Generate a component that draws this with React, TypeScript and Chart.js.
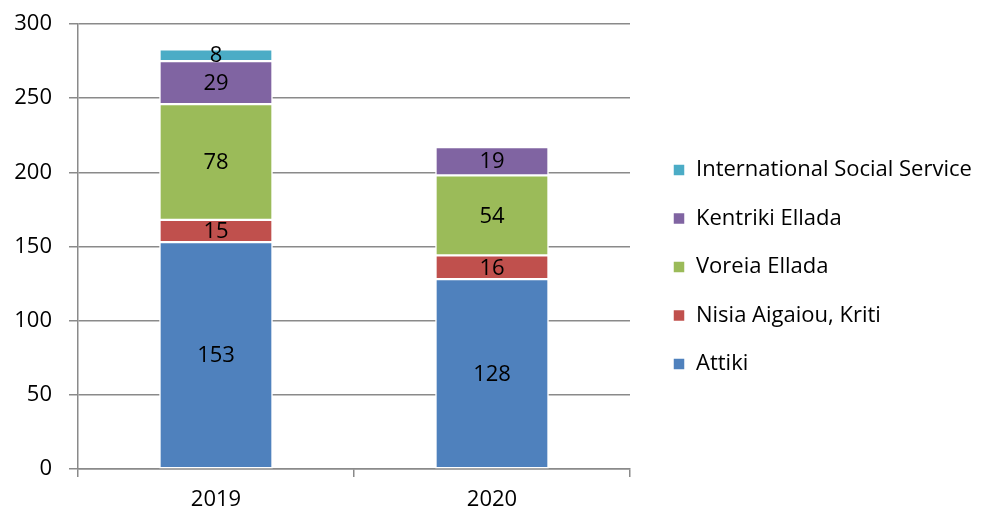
import React, { useEffect, useRef } from "react";
import { Chart, registerables } from "chart.js";

Chart.register(...registerables);

const categories = ["2019", "2020"];
const seriesNames = [
  "Attiki",
  "Nisia Aigaiou, Kriti",
  "Voreia Ellada",
  "Kentriki Ellada",
  "International Social Service",
];
const attiki = [153, 128];
const nisia = [15, 16];
const voreia = [78, 54];
const kentriki = [29, 19];
const iss = [8, null];
const seriesColors = ["#4F81BD", "#C0504D", "#9BBB59", "#8064A2", "#4BACC6"];
const yTicks = [0, 50, 100, 150, 200, 250, 300];

const FONT = "'Open Sans', 'Noto Sans', sans-serif";
const FS = 22;

const labelPlugin = {
  id: "segLabels",
  afterDatasetsDraw(chart: any) {
    const ctx = chart.ctx;
    ctx.save();
    ctx.font = `${FS}px ${FONT}`;
    ctx.fillStyle = "#000";
    ctx.textAlign = "center";
    ctx.textBaseline = "middle";
    chart.data.datasets.forEach((ds: any, i: number) => {
      const meta = chart.getDatasetMeta(i);
      meta.data.forEach((bar: any, j: number) => {
        const v = ds.data[j];
        if (v == null) return;
        const p = bar.getProps(["x", "y", "base"], true);
        ctx.fillText(String(v), p.x, (p.y + p.base) / 2 + 1);
      });
    });
    ctx.restore();
  },
};

const legendShift = {
  id: "legendShift",
  afterLayout(chart: any) {
    const lg = chart.legend;
    if (!lg) return;
    const dx = 16.5;
    const dy = -1.5;
    lg.left += dx;
    lg.right += dx;
    lg.top += dy;
    lg.bottom += dy;
  },
};

export default function App() {
  const ref = useRef<HTMLCanvasElement>(null);
  useEffect(() => {
    document.body.style.margin = "0";
    const datasets = [attiki, nisia, voreia, kentriki, iss].map((d, i) => ({
      label: seriesNames[i],
      data: d,
      backgroundColor: seriesColors[i],
      borderColor: "#ffffff",
      borderWidth: 1.5,
      borderSkipped: false as any,
      barThickness: 113,
    }));
    const chart = new Chart(ref.current!, {
      type: "bar",
      data: { labels: categories, datasets },
      options: {
        animation: false,
        responsive: false,
        maintainAspectRatio: false,
        layout: { padding: { top: 24, left: 0, right: 0, bottom: 0 } },
        plugins: {
          tooltip: { enabled: false },
          legend: {
            position: "right",
            reverse: true,
            labels: {
              boxWidth: 12,
              boxHeight: 12,
              padding: 26.5,
              color: "#000",
              font: { family: FONT, size: FS },
            },
          },
        },
        scales: {
          x: {
            stacked: true,
            grid: {
              offset: true,
              drawOnChartArea: false,
              drawTicks: true,
              tickLength: 8,
              color: "#8a8a8a",
              lineWidth: 1.5,
            },
            border: { color: "#8a8a8a", width: 1.5 },
            ticks: { color: "#000", font: { family: FONT, size: FS }, padding: 10 },
            afterFit(scale: any) {
              scale.height = 44;
              scale.paddingLeft = 0;
              scale.paddingRight = 0;
            },
          },
          y: {
            stacked: true,
            min: 0,
            max: 300,
            afterBuildTicks(scale: any) {
              scale.ticks = yTicks.map((v) => ({ value: v }));
            },
            grid: {
              color: "#8a8a8a",
              lineWidth: 1.5,
              tickLength: 9,
            },
            border: { color: "#8a8a8a", width: 1.5 },
            ticks: { color: "#000", font: { family: FONT, size: FS }, padding: 17 },
            afterFit(scale: any) {
              scale.width = 78;
              scale.paddingTop = 0;
              scale.paddingBottom = 0;
            },
          },
        },
      },
      plugins: [labelPlugin, legendShift],
    });
    const lg: any = chart.legend;
    if (lg) {
      const orig = lg.fit.bind(lg);
      lg.fit = function () {
        orig();
        this.width = 359;
      };
      chart.update();
    }
    return () => chart.destroy();
  }, []);
  return <canvas ref={ref} width={989} height={513} style={{ display: "block" }} />;
}
